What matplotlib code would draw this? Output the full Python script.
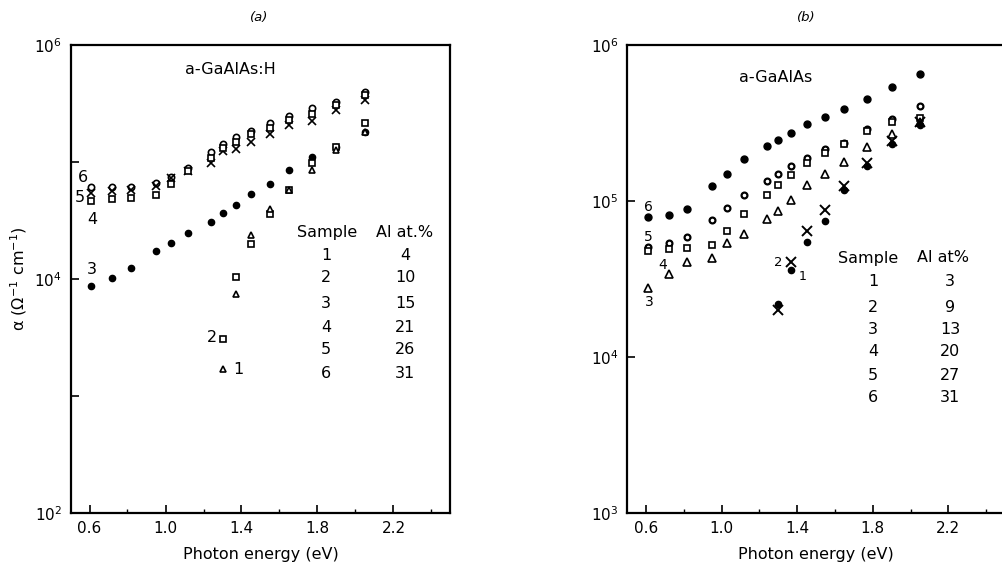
import numpy as np
import matplotlib
matplotlib.use("Agg")
import matplotlib.pyplot as plt
from matplotlib.ticker import FixedLocator, NullLocator

plt.rcParams['font.family'] = ['DejaVu Sans']
plt.rcParams['mathtext.default'] = 'regular'

# photon energies (eV)
E_full = [0.61, 0.72, 0.82, 0.95, 1.03, 1.12, 1.24, 1.30, 1.37, 1.45, 1.55, 1.65, 1.77, 1.90, 2.05]
E_high = [1.30, 1.37, 1.45, 1.55, 1.65, 1.77, 1.90, 2.05]

# (a) a-GaAlAs:H, alpha in ohm^-1 cm^-1
a_s6 = [6.1e4, 6.15e4, 6.15e4, 6.65e4, 7.4e4, 8.8e4, 1.21e5, 1.42e5, 1.64e5, 1.85e5, 2.17e5, 2.49e5, 2.9e5, 3.28e5, 3.99e5]
a_s5 = [5.4e4, 5.6e4, 5.8e4, 6.2e4, 7.3e4, 8.3e4, 9.8e4, 1.23e5, 1.29e5, 1.49e5, 1.73e5, 2.07e5, 2.26e5, 2.78e5, 3.39e5]
a_s4 = [4.6e4, 4.8e4, 4.9e4, 5.2e4, 6.5e4, 8.4e4, 1.09e5, 1.31e5, 1.49e5, 1.73e5, 1.94e5, 2.29e5, 2.57e5, 3.07e5, 3.74e5]
a_s3 = [8.7e3, 1.01e4, 1.23e4, 1.75e4, 2.04e4, 2.46e4, 3.09e4, 3.65e4, 4.29e4, 5.32e4, 6.48e4, 8.55e4, 1.11e5, 1.35e5, 1.82e5]
a_s2 = [3.1e3, 1.03e4, 2.0e4, 3.6e4, 5.8e4, 9.8e4, 1.35e5, 2.14e5]
a_s1 = [1.7e3, 7.5e3, 2.4e4, 4.0e4, 5.8e4, 8.6e4, 1.27e5, 1.82e5]

# (b) a-GaAlAs
b_s6 = [7.85e4, 8.1e4, 8.9e4, 1.24e5, 1.50e5, 1.87e5, 2.25e5, 2.45e5, 2.71e5, 3.10e5, 3.47e5, 3.88e5, 4.50e5, 5.36e5, 6.53e5]
b_s5 = [5.1e4, 5.4e4, 5.9e4, 7.6e4, 9.0e4, 1.09e5, 1.35e5, 1.49e5, 1.67e5, 1.89e5, 2.17e5, 2.37e5, 2.89e5, 3.35e5, 4.08e5]
b_s4 = [4.8e4, 4.9e4, 5.0e4, 5.2e4, 6.4e4, 8.2e4, 1.09e5, 1.27e5, 1.47e5, 1.76e5, 2.04e5, 2.33e5, 2.79e5, 3.19e5, 3.4e5]
b_s3 = [2.77e4, 3.38e4, 4.08e4, 4.29e4, 5.36e4, 6.15e4, 7.69e4, 8.59e4, 1.02e5, 1.26e5, 1.49e5, 1.79e5, 2.23e5, 2.68e5, 3.19e5]
b_s2 = [1.99e4, 4.08e4, 6.38e4, 8.79e4, 1.24e5, 1.76e5, 2.43e5, 3.19e5]
b_s1 = [2.2e4, 3.61e4, 5.43e4, 7.46e4, 1.18e5, 1.68e5, 2.33e5, 3.05e5]

samples = ['1', '2', '3', '4', '5', '6']
al_a = ['4', '10', '15', '21', '26', '31']
al_b = ['3', '9', '13', '20', '27', '31']

W, H = 1002, 571
fig = plt.figure(figsize=(W / 100, H / 100), dpi=100)

def px(x, y):
    return x / W, 1 - y / H

def put(x, y, s, size=11.5, **kw):
    fx, fy = px(x, y)
    fig.text(fx, fy, s, ha='center', va='center', fontsize=size, **kw)

ax1 = fig.add_axes([70.5 / W, 1 - 513 / H, 380 / W, 468 / H])
ax2 = fig.add_axes([627 / W, 1 - 513 / H, 378 / W, 468 / H])

open_kw = dict(mfc='white', mec='black', color='black', ls='none', mew=1.2)
ax1.plot(E_full, a_s6, marker='o', ms=4.5, **open_kw)
ax1.plot(E_full, a_s5, marker='x', ms=6, ls='none', color='black', mew=1.2)
ax1.plot(E_full, a_s4, marker='s', ms=4.2, **open_kw)
ax1.plot(E_full, a_s3, marker='o', ms=4.5, ls='none', color='black')
ax1.plot(E_high, a_s2, marker='s', ms=4.2, **open_kw)
ax1.plot(E_high, a_s1, marker='^', ms=4.5, **open_kw)

ax2.plot(E_full, b_s6, marker='o', ms=5, ls='none', color='black')
ax2.plot(E_full, b_s5, marker='o', ms=4.2, mfc='white', mec='black', ls='none', mew=1.6)
ax2.plot(E_full, b_s4, marker='s', ms=4.2, **open_kw)
ax2.plot(E_full, b_s3, marker='^', ms=5.5, **open_kw)
ax2.plot(E_high, b_s2, marker='x', ms=6.5, ls='none', color='black', mew=1.4)
ax2.plot(E_high, b_s1, marker='o', ms=4.5, ls='none', color='black')

for ax, ylo in ((ax1, 1e2), (ax2, 1e3)):
    ax.set_yscale('log')
    ax.set_xlim(0.5, 2.5)
    ax.set_ylim(ylo, 1e6)
    ax.xaxis.set_major_locator(FixedLocator([0.6, 1.0, 1.4, 1.8, 2.2]))
    ax.xaxis.set_minor_locator(FixedLocator([0.8, 1.2, 1.6, 2.0, 2.4]))
    ax.set_xticklabels(['0.6', '1.0', '1.4', '1.8', '2.2'])
    ax.yaxis.set_minor_locator(NullLocator())
    ax.tick_params(direction='in', length=6, width=1.2, labelsize=11, pad=6)
    ax.tick_params(which='minor', direction='in', length=3, width=1)
    for sp in ax.spines.values():
        sp.set_linewidth(1.6)
    ax.set_xlabel('Photon energy (eV)', fontsize=11.5, labelpad=8)

ax1.yaxis.set_major_locator(FixedLocator([1e2, 1e3, 1e4, 1e5, 1e6]))
ax1.set_yticklabels(['$10^2$', '', '$10^4$', '', '$10^6$'])
ax2.yaxis.set_major_locator(FixedLocator([1e3, 1e4, 1e5, 1e6]))
ax2.set_yticklabels(['$10^3$', '$10^4$', '$10^5$', '$10^6$'])
ax1.set_ylabel('α (Ω$^{-1}$ cm$^{-1}$)', fontsize=11.5, labelpad=4)

# panel titles
put(259, 17, '(a)', size=9.5, style='italic')
put(806, 17, '(b)', size=9.5, style='italic')
put(230, 70, 'a-GaAlAs:H')
put(776, 78, 'a-GaAlAs')

# sample labels (a)
put(83, 177, '6'); put(80, 198, '5'); put(92, 220, '4'); put(92, 270, '3')
put(212, 338, '2'); put(238, 370, '1')
# sample labels (b)
put(648, 207, '6', size=10); put(648, 237, '5', size=10); put(663, 265, '4', size=10)
put(649, 302, '3', size=10); put(778, 263, '2', size=9.5); put(803, 276, '1', size=9)

# tables
put(327, 232, 'Sample'); put(405, 232, 'Al at.%')
for i, (s, v) in enumerate(zip(samples, al_a)):
    y = [255, 278, 303, 327, 350, 373][i]
    put(326, y, s); put(405, y, v)
put(868, 258, 'Sample'); put(943, 258, 'Al at%')
for i, (s, v) in enumerate(zip(samples, al_b)):
    y = [282, 307, 330, 352, 375, 398][i]
    put(873, y, s); put(950, y, v)

fig.savefig('out.png', dpi=100)
